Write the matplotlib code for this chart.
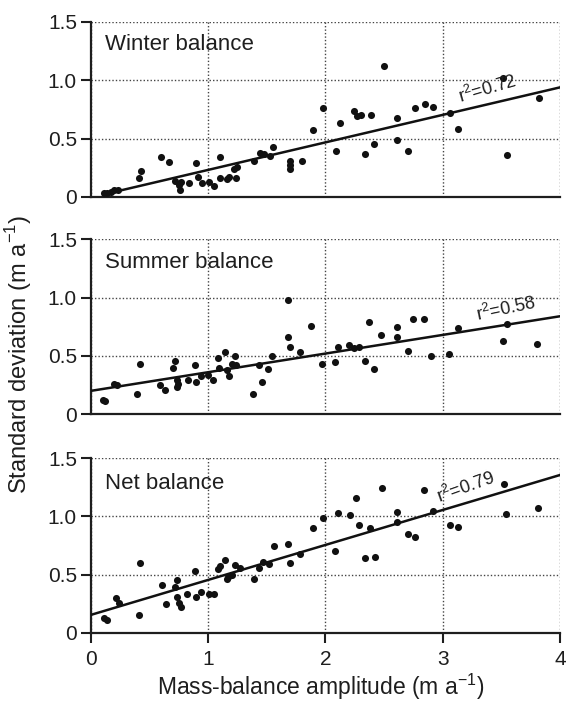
import numpy as np
import matplotlib
matplotlib.use("Agg")
import matplotlib.pyplot as plt

plt.rcParams['font.family'] = ['Liberation Sans', 'DejaVu Sans']

# Winter balance: amplitude vs standard deviation (m a-1)
winter_x = [0.11, 0.14, 0.17, 0.20, 0.23, 0.41, 0.43, 0.60, 0.67, 0.72, 0.75, 0.76, 0.77,
            0.84, 0.90, 0.91, 0.95, 1.01, 1.05, 1.10, 1.10, 1.16, 1.18, 1.24, 1.22, 1.25,
            1.39, 1.44, 1.48, 1.53, 1.55, 1.70, 1.70, 1.70, 1.80, 1.89, 1.98, 2.09, 2.12,
            2.24, 2.27, 2.30, 2.39, 2.41, 2.34, 2.50, 2.61, 2.61, 2.70, 2.76, 2.85, 2.92,
            3.06, 3.13, 3.51, 3.55, 3.82]
winter_y = [0.03, 0.03, 0.04, 0.06, 0.06, 0.16, 0.22, 0.34, 0.30, 0.14, 0.10, 0.06, 0.13,
            0.12, 0.29, 0.17, 0.12, 0.13, 0.09, 0.16, 0.34, 0.15, 0.17, 0.16, 0.24, 0.26,
            0.31, 0.38, 0.37, 0.35, 0.43, 0.31, 0.27, 0.24, 0.31, 0.57, 0.76, 0.39, 0.63,
            0.74, 0.69, 0.70, 0.70, 0.45, 0.37, 1.12, 0.68, 0.49, 0.39, 0.76, 0.80, 0.77,
            0.72, 0.58, 1.02, 0.36, 0.85]

# Summer balance
summer_x = [0.10, 0.12, 0.20, 0.22, 0.39, 0.42, 0.59, 0.63, 0.70, 0.72, 0.73, 0.73, 0.74,
            0.83, 0.90, 0.89, 0.94, 1.00, 1.04, 1.08, 1.09, 1.14, 1.16, 1.18, 1.20, 1.23,
            1.24, 1.38, 1.43, 1.46, 1.51, 1.54, 1.68, 1.68, 1.70, 1.78, 1.88, 1.97, 2.08,
            2.11, 2.20, 2.24, 2.29, 2.34, 2.37, 2.41, 2.47, 2.61, 2.61, 2.70, 2.75, 2.84,
            2.90, 3.05, 3.13, 3.51, 3.55, 3.80]
summer_y = [0.12, 0.11, 0.26, 0.25, 0.17, 0.43, 0.25, 0.21, 0.40, 0.46, 0.29, 0.23, 0.26,
            0.29, 0.28, 0.42, 0.33, 0.34, 0.29, 0.48, 0.40, 0.53, 0.38, 0.33, 0.43, 0.50,
            0.42, 0.17, 0.42, 0.28, 0.39, 0.50, 0.98, 0.66, 0.58, 0.53, 0.76, 0.43, 0.45,
            0.58, 0.59, 0.57, 0.58, 0.46, 0.79, 0.39, 0.68, 0.75, 0.66, 0.54, 0.82, 0.82,
            0.50, 0.52, 0.74, 0.63, 0.77, 0.60]

# Net balance
net_x = [0.11, 0.14, 0.21, 0.24, 0.41, 0.42, 0.61, 0.64, 0.72, 0.73, 0.73, 0.75, 0.77,
         0.82, 0.89, 0.90, 0.94, 1.01, 1.05, 1.08, 1.10, 1.14, 1.16, 1.17, 1.20, 1.23,
         1.27, 1.39, 1.43, 1.47, 1.52, 1.56, 1.68, 1.70, 1.78, 1.89, 1.98, 2.08, 2.11,
         2.21, 2.26, 2.29, 2.34, 2.38, 2.42, 2.48, 2.61, 2.61, 2.70, 2.76, 2.84, 2.92,
         3.06, 3.13, 3.52, 3.54, 3.81]
net_y = [0.13, 0.11, 0.30, 0.26, 0.15, 0.60, 0.41, 0.25, 0.39, 0.45, 0.31, 0.26, 0.22,
         0.33, 0.53, 0.31, 0.35, 0.33, 0.33, 0.55, 0.57, 0.63, 0.46, 0.48, 0.50, 0.58,
         0.56, 0.46, 0.56, 0.61, 0.59, 0.75, 0.76, 0.60, 0.68, 0.90, 0.99, 0.70, 1.03,
         1.01, 1.16, 0.93, 0.64, 0.90, 0.65, 1.24, 1.04, 0.95, 0.85, 0.82, 1.23, 1.05,
         0.93, 0.91, 1.28, 1.02, 1.07]

# regression lines as printed (intercept, slope, start x) and r² labels
panel_names = ['Winter balance', 'Summer balance', 'Net balance']
fit_lines = [(-0.005, 0.236, 0.12), (0.20, 0.16, 0.0), (0.155, 0.30, 0.0)]
r2_labels = ['0.72', '0.58', '0.79']
r2_pos = [(3.15, 0.80), (3.30, 0.80), (2.97, 1.11)]
title_y = [0.93, 0.93, 0.915]

ink = '#1e1e1e'
data = [(winter_x, winter_y), (summer_x, summer_y), (net_x, net_y)]
bottoms = [0.722, 0.415, 0.106]

fig = plt.figure(figsize=(5.68, 7.08), dpi=100)

for i, (xs, ys) in enumerate(data):
    ax = fig.add_axes([0.160, bottoms[i], 0.826, 0.247])
    ax.set_xlim(0, 4)
    ax.set_ylim(0, 1.5)
    ax.set_xticks([0, 1, 2, 3, 4])
    ax.set_yticks([0, 0.5, 1.0, 1.5])
    ax.set_yticklabels(['0', '0.5', '1.0', '1.5'])
    ax.grid(True, linestyle=(0, (1, 1.5)), color='#444444', linewidth=1.0)
    ax.set_axisbelow(True)
    for s in ['top', 'right']:
        ax.spines[s].set_visible(False)
    for s in ['left', 'bottom']:
        ax.spines[s].set_linewidth(1.6)
        ax.spines[s].set_color(ink)
    ax.tick_params(axis='y', direction='out', length=7, width=1.5, colors=ink,
                   labelsize=15, pad=3)
    if i < 2:
        ax.tick_params(axis='x', length=0, labelbottom=False)
    else:
        ax.tick_params(axis='x', direction='out', length=7, width=1.5, colors=ink,
                       labelsize=15, pad=5)

    ax.scatter(xs, ys, s=26, color='#111111', zorder=3, linewidths=0)

    b0, b1, x0 = fit_lines[i]
    lx = np.array([x0, 4.0])
    ax.plot(lx, b0 + b1 * lx, color='#111111', linewidth=1.8, zorder=4)

    ax.text(0.03, title_y[i], panel_names[i], transform=ax.transAxes,
            fontsize=16, color=ink, va='top', ha='left')

    # angle of the fit line on screen
    p1 = ax.transData.transform((0, b0))
    p2 = ax.transData.transform((4, b0 + 4 * b1))
    ang = np.degrees(np.arctan2(p2[1] - p1[1], p2[0] - p1[0]))
    tx, ty = r2_pos[i]
    ax.text(tx, ty, r'r$^{\mathregular{2}}$=' + r2_labels[i], fontsize=13, color=ink,
            rotation=ang + 3, rotation_mode='anchor', ha='left', va='baseline')

fig.text(0.032, 0.50, r'Standard deviation (m a$^{\mathregular{-1}}$)', rotation=90,
         fontsize=17, color=ink, ha='center', va='center')
fig.text(0.565, 0.008, r'Mass-balance amplitude (m a$^{\mathregular{-1}}$)',
         fontsize=16.5, color=ink, ha='center', va='bottom')

fig.savefig('out.png', dpi=100)
